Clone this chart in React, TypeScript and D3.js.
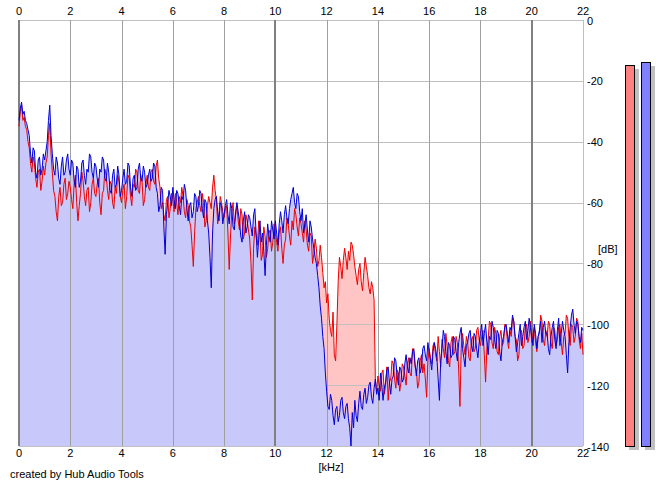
import React from 'react';
import * as d3 from 'd3';

const FREQ_STEP = 0.05; // kHz between spectrum bins
const FREQ_DOMAIN = [0, 22];
const DB_DOMAIN = [0, -140];

// Left channel (red), dB, one value per 0.05 kHz from 0 to 22 kHz (20 values per kHz row)
const LEFT_DB = [
  -35, -30, -28, -33, -32, -35, -36, -40, -42, -47, -50, -45, -47, -52, -55, -50, -49, -56, -53, -48,
  -51, -47, -45, -38, -34, -44, -50, -56, -58, -63, -66, -58, -55, -61, -60, -54, -52, -59, -57, -53,
  -55, -59, -62, -54, -51, -60, -66, -61, -57, -50, -53, -58, -61, -56, -55, -63, -60, -54, -52, -57,
  -58, -54, -52, -60, -64, -57, -56, -49, -51, -56, -59, -53, -54, -60, -62, -55, -57, -51, -53, -58,
  -60, -56, -54, -62, -58, -51, -52, -58, -61, -54, -55, -49, -50, -56, -57, -51, -53, -61, -59, -54,
  -51, -55, -56, -50, -49, -53, -54, -48, -46, -52, -55, -62, -60, -64, -66, -59, -58, -65, -62, -57,
  -59, -63, -57, -60, -64, -58, -60, -55, -58, -63, -65, -59, -61, -66, -68, -74, -81, -70, -62, -60,
  -58, -61, -63, -57, -60, -68, -66, -61, -58, -60, -62, -55, -51, -56, -59, -67, -64, -58, -60, -63,
  -65, -62, -61, -70, -82, -71, -63, -60, -67, -64, -61, -66, -69, -62, -64, -72, -70, -64, -66, -69,
  -72, -80, -92, -75, -68, -71, -74, -66, -70, -79, -77, -68, -71, -78, -75, -70, -69, -76, -73, -67,
  -70, -73, -76, -70, -68, -75, -80, -74, -72, -65, -67, -71, -74, -66, -69, -62, -64, -68, -71, -65,
  -67, -70, -73, -66, -69, -74, -76, -70, -71, -80, -77, -72, -75, -81, -79, -74, -78, -83, -88, -86,
  -93, -90, -98, -102, -104, -96, -110, -112, -100, -86, -78, -81, -85, -79, -75, -78, -82, -76, -79, -73,
  -74, -77, -81, -84, -87, -82, -80, -86, -89, -83, -78, -81, -84, -88, -90, -86, -88, -92, -118, -122,
  -117, -120, -122, -116, -115, -123, -120, -114, -125, -119, -118, -112, -113, -118, -121, -115, -116, -122, -119, -113,
  -114, -117, -120, -113, -111, -116, -117, -108, -109, -114, -115, -121, -119, -112, -110, -116, -113, -118, -124, -112,
  -108, -111, -113, -107, -106, -110, -112, -104, -109, -114, -105, -108, -111, -103, -107, -112, -114, -106, -104, -110,
  -109, -104, -106, -115, -127, -108, -103, -107, -110, -104, -106, -111, -112, -105, -104, -109, -108, -102, -101, -105,
  -107, -104, -102, -110, -119, -108, -105, -99, -100, -106, -108, -101, -103, -109, -110, -104, -102, -107, -106, -100,
  -101, -105, -108, -102, -104, -98, -99, -104, -105, -112, -110, -103, -102, -108, -107, -101, -100, -106, -104, -99,
  -106, -103, -101, -106, -109, -104, -103, -97, -99, -105, -107, -102, -104, -99, -100, -106, -108, -101, -102, -107,
  -105, -101, -100, -106, -110, -104, -103, -97, -98, -104, -107, -100, -101, -106, -104, -98, -99, -105, -108, -103,
  -110,
];

// Right channel (blue), dB, one value per 0.05 kHz from 0 to 22 kHz (20 values per kHz row)
const RIGHT_DB = [
  -33, -29, -27, -31, -30, -33, -34, -36, -38, -44, -47, -42, -43, -50, -52, -46, -45, -51, -49, -44,
  -46, -43, -40, -33, -28, -38, -44, -49, -51, -45, -47, -52, -54, -48, -45, -51, -50, -46, -44, -49,
  -51, -46, -47, -53, -55, -48, -49, -55, -53, -47, -46, -51, -54, -49, -50, -44, -45, -50, -52, -47,
  -48, -52, -55, -49, -50, -45, -46, -52, -53, -47, -50, -56, -57, -51, -49, -55, -54, -48, -51, -58,
  -56, -52, -49, -54, -53, -47, -48, -55, -58, -52, -51, -56, -55, -49, -47, -52, -53, -48, -50, -55,
  -54, -51, -49, -53, -52, -47, -48, -55, -57, -63, -61, -55, -56, -68, -77, -64, -60, -56, -58, -61,
  -55, -59, -62, -56, -57, -61, -64, -58, -59, -54, -56, -62, -66, -61, -60, -65, -63, -57, -58, -63,
  -61, -56, -57, -62, -65, -59, -60, -66, -70, -78, -88, -70, -62, -59, -58, -63, -66, -60, -61, -67,
  -64, -61, -59, -64, -67, -60, -62, -68, -69, -63, -60, -63, -66, -71, -73, -66, -63, -70, -68, -64,
  -65, -68, -71, -64, -62, -70, -78, -72, -66, -73, -70, -76, -84, -74, -67, -71, -73, -66, -69, -72,
  -66, -70, -74, -67, -63, -66, -70, -64, -61, -65, -67, -62, -59, -57, -55, -60, -62, -57, -58, -63,
  -66, -62, -70, -67, -64, -69, -73, -66, -68, -72, -75, -78, -80, -84, -88, -94, -98, -104, -108, -116,
  -122, -127, -128, -123, -125, -130, -133, -128, -127, -132, -130, -125, -124, -129, -131, -127, -126, -131, -134, -140,
  -129, -134, -125, -130, -132, -126, -122, -127, -128, -123, -121, -126, -124, -120, -119, -124, -126, -121, -118, -123,
  -121, -125, -116, -120, -125, -121, -119, -115, -114, -119, -123, -118, -117, -111, -112, -117, -120, -114, -115, -119,
  -118, -113, -110, -114, -116, -111, -113, -109, -108, -113, -117, -112, -111, -116, -114, -108, -107, -110, -112, -106,
  -109, -112, -115, -109, -106, -108, -111, -118, -125, -112, -108, -102, -104, -109, -113, -106, -107, -111, -110, -104,
  -105, -109, -112, -106, -103, -101, -108, -111, -114, -107, -106, -103, -102, -107, -109, -103, -104, -108, -111, -106,
  -103, -100, -107, -103, -100, -106, -110, -104, -105, -99, -101, -105, -108, -102, -103, -109, -112, -106, -104, -101,
  -100, -103, -106, -101, -102, -97, -99, -104, -109, -106, -103, -100, -107, -104, -101, -99, -105, -102, -98, -101,
  -104, -107, -100, -103, -108, -104, -102, -99, -106, -101, -99, -103, -103, -108, -110, -104, -101, -99, -105, -108,
  -102, -98, -107, -103, -99, -102, -104, -110, -116, -106, -101, -97, -95, -100, -103, -99, -100, -104, -106, -101,
  -102,
];

const X_TICKS = [0, 2, 4, 6, 8, 10, 12, 14, 16, 18, 20, 22];
const X_MAJOR = [0, 10, 20];
const Y_TICKS = [0, -20, -40, -60, -80, -100, -120, -140];

// Level meters: peak level in dB for left / right
const METER_DB = [-14.8, -13.8];
const METER_FILL = ['#ff8080', '#8080ff'];

const FONT = '"Liberation Sans", Arial, sans-serif';

export default function App() {
  const W = 665;
  const H = 487;
  const x = d3.scaleLinear().domain(FREQ_DOMAIN).range([19, 583]);
  const y = d3.scaleLinear().domain(DB_DOMAIN).range([20, 446]);
  const clamp = (d: number) => Math.max(DB_DOMAIN[1], Math.min(DB_DOMAIN[0], d));
  const fx = (i: number) => x(Math.min(FREQ_DOMAIN[1], i * FREQ_STEP));

  const area = d3
    .area<number>()
    .x((_, i) => fx(i))
    .y0(y(DB_DOMAIN[1]))
    .y1((d) => y(clamp(d)));
  const line = d3
    .line<number>()
    .x((_, i) => fx(i))
    .y((d) => y(clamp(d)));

  const meterX = [625, 641];
  const meterW = 9;

  return (
    <svg
      width={W}
      height={H}
      style={{ position: 'absolute', left: 0, top: 0, background: '#fff' }}
      fontFamily={FONT}
      fontSize={11}
    >
      <rect x={0} y={0} width={W} height={H} fill="#fff" />
      {/* left channel fill */}
      <path d={area(LEFT_DB) || ''} fill="#ffc4c4" />

      {/* horizontal grid */}
      {Y_TICKS.map((t) => (
        <line
          key={'h' + t}
          x1={x(FREQ_DOMAIN[0])}
          x2={x(FREQ_DOMAIN[1])}
          y1={Math.round(y(t)) + 0.5}
          y2={Math.round(y(t)) + 0.5}
          stroke="#c0c0c0"
          strokeWidth={1}
        />
      ))}

      {/* right channel fill */}
      <path d={area(RIGHT_DB) || ''} fill="#c8c8fa" />

      {/* vertical grid */}
      {X_TICKS.map((t) => {
        const major = X_MAJOR.includes(t);
        const last = t === FREQ_DOMAIN[1];
        const xx = Math.round(x(t)) + (major ? 0 : 0.5);
        return (
          <line
            key={'v' + t}
            x1={xx}
            x2={xx}
            y1={y(DB_DOMAIN[0])}
            y2={y(DB_DOMAIN[1])}
            stroke={major ? '#808080' : last ? '#c0c0c0' : '#a0a0a0'}
            strokeWidth={major ? 2 : 1}
          />
        );
      })}

      {/* spectrum lines */}
      <path d={line(LEFT_DB) || ''} fill="none" stroke="#f00000" strokeWidth={1} />
      <path d={line(RIGHT_DB) || ''} fill="none" stroke="#0000d8" strokeWidth={1} />

      {/* top axis labels */}
      {X_TICKS.map((t) => (
        <text key={'tt' + t} x={x(t)} y={15} textAnchor="middle" fill="#000">
          {t}
        </text>
      ))}
      {/* bottom axis labels */}
      {X_TICKS.map((t) => (
        <text key={'bt' + t} x={x(t)} y={457} textAnchor="middle" fill="#000">
          {t}
        </text>
      ))}
      {/* right axis labels */}
      {Y_TICKS.map((t) => (
        <text key={'rt' + t} x={587} y={y(t) + 4.5} textAnchor="start" fill="#000">
          {t}
        </text>
      ))}
      <text x={598} y={253} fill="#000">[dB]</text>
      <text x={331} y={471} textAnchor="middle" fill="#000">[kHz]</text>
      <text x={10} y={478} fill="#000">created by Hub Audio Tools</text>

      {/* level meters */}
      {METER_DB.map((v, i) => (
        <g key={'m' + i}>
          <rect
            x={meterX[i] + 4}
            y={y(v) + 4}
            width={meterW + 1}
            height={y(DB_DOMAIN[1]) - y(v)}
            fill="#c0c0c0"
          />
          <rect
            x={meterX[i] + 0.5}
            y={y(v) + 0.5}
            width={meterW}
            height={y(DB_DOMAIN[1]) - y(v)}
            fill={METER_FILL[i]}
            stroke="#000"
            strokeWidth={1}
          />
        </g>
      ))}
    </svg>
  );
}
